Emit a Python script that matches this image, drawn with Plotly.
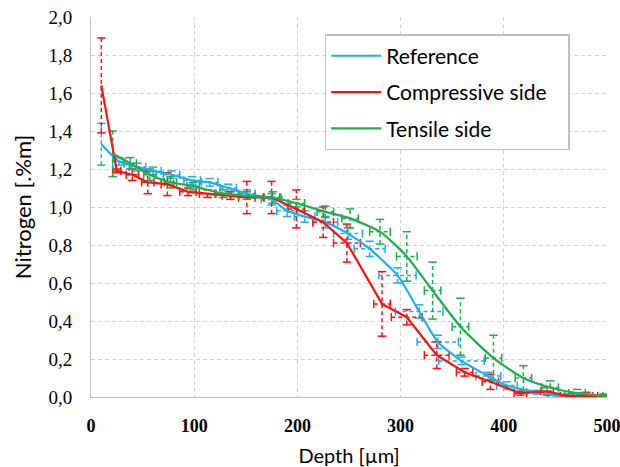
import plotly.graph_objects as go

# ---- data ----
ref_x = [10, 27, 45, 60, 78, 98, 115, 133, 151, 175, 190, 207, 227, 249, 270, 297, 318, 336, 359, 385, 403, 432, 451, 470]
ref_y = [1.33, 1.24, 1.21, 1.19, 1.17, 1.14, 1.13, 1.10, 1.07, 1.04, 0.98, 0.95, 0.92, 0.86, 0.78, 0.64, 0.45, 0.29, 0.19, 0.11, 0.06, 0.025, 0.01, 0.005]
ref_ey = [0.11, 0.02, 0.02, 0.02, 0.02, 0.02, 0.02, 0.02, 0.02, 0.03, 0.03, 0.03, 0.03, 0.03, 0.04, 0.04, 0.035, 0.035, 0.02, 0.02, 0.02, 0.01, 0.01, 0.01]
ref_ex = [0, 6, 8, 8, 8, 8, 8, 8, 8, 10, 10, 10, 12, 14, 15, 18, 23, 20, 22, 12, 10, 10, 8, 6]

comp_x = [10, 25, 40, 55, 74, 94, 113, 135, 151, 175, 199, 225, 248, 282, 306, 335, 362, 387, 416, 442, 461, 480, 497]
comp_y = [1.64, 1.19, 1.17, 1.13, 1.12, 1.08, 1.07, 1.06, 1.05, 1.05, 0.99, 0.92, 0.81, 0.49, 0.42, 0.22, 0.13, 0.08, 0.02, 0.03, 0.005, 0.005, 0.005]
comp_ey = [0.25, 0.01, 0.03, 0.06, 0.06, 0.02, 0.02, 0.02, 0.085, 0.085, 0.10, 0.08, 0.10, 0.17, 0.04, 0.07, 0.02, 0.04, 0.01, 0.02, 0.01, 0.02, 0.01]
comp_ex = [0, 4, 6, 6, 6, 8, 8, 8, 8, 8, 8, 10, 13, 8, 15, 12, 8, 8, 6, 6, 6, 6, 6]

tens_x = [21, 38, 57, 77, 99, 128, 151, 176, 199, 227, 251, 280, 306, 331, 358, 390, 419, 445, 471, 500]
tens_y = [1.28, 1.23, 1.17, 1.13, 1.11, 1.07, 1.06, 1.05, 1.02, 0.975, 0.94, 0.87, 0.74, 0.56, 0.37, 0.205, 0.10, 0.05, 0.02, 0.005]
tens_ey = [0.12, 0.03, 0.03, 0.03, 0.02, 0.02, 0.02, 0.03, 0.02, 0.03, 0.05, 0.065, 0.13, 0.15, 0.15, 0.12, 0.065, 0.035, 0.02, 0.005]
tens_ex = [0, 6, 6, 6, 6, 8, 8, 8, 8, 8, 8, 10, 10, 8, 8, 8, 8, 8, 8, 4]

series = [
    ("Reference", ref_x, ref_y, ref_ex, ref_ey, "#1CB0EC", "spline"),
    ("Compressive side", comp_x, comp_y, comp_ex, comp_ey, "#FF1010", "linear"),
    ("Tensile side", tens_x, tens_y, tens_ex, tens_ey, "#1DAE4E", "spline"),
]

x_ticks = [0, 100, 200, 300, 400, 500]
y_ticks = [0.0, 0.2, 0.4, 0.6, 0.8, 1.0, 1.2, 1.4, 1.6, 1.8, 2.0]

fig = go.Figure()

for name, xs, ys, exs, eys, col, shape in series:
    ex_l, ey_l = [], []
    cap_vx, cap_vy, cap_hx, cap_hy = [], [], [], []
    for x, y, ex, ey in zip(xs, ys, exs, eys):
        if ey > 0:
            ex_l += [x, x, None]
            ey_l += [y - ey, y + ey, None]
            cap_vx += [x, x]
            cap_vy += [y - ey, y + ey]
        if ex > 0:
            ex_l += [x - ex, x + ex, None]
            ey_l += [y, y, None]
            cap_hx += [x - ex, x + ex]
            cap_hy += [y, y]
    fig.add_trace(go.Scatter(x=ex_l, y=ey_l, mode="lines", showlegend=False, hoverinfo="skip",
                             line=dict(color=col, width=1.5, dash="4px,3px")))
    fig.add_trace(go.Scatter(x=cap_vx, y=cap_vy, mode="markers", showlegend=False, hoverinfo="skip",
                             marker=dict(symbol="line-ew", size=6, line=dict(color=col, width=1.5))))
    fig.add_trace(go.Scatter(x=cap_hx, y=cap_hy, mode="markers", showlegend=False, hoverinfo="skip",
                             marker=dict(symbol="line-ns", size=6, line=dict(color=col, width=1.5))))

pad = "\u00a0\u00a0\u00a0"
for i, (name, xs, ys, exs, eys, col, shape) in enumerate(series):
    fig.add_trace(go.Scatter(x=xs, y=ys, mode="lines", name=name + pad, legendgroup=f"g{i}",
                             line=dict(color=col, width=2.2, shape=shape, smoothing=0.6)))

grid = dict(showgrid=True, gridcolor="#D4D4D4", griddash="4px,3px", gridwidth=1,
            showline=True, linecolor="#BFBFBF", linewidth=1, zeroline=False, ticks="",
            automargin=False)

fig.update_layout(
    width=620, height=467,
    margin=dict(l=91, r=13, t=17, b=70, autoexpand=False),
    paper_bgcolor="white", plot_bgcolor="white",
    separators=", ",
    xaxis=dict(range=[0, 500], tickvals=x_ticks, ticktext=[str(v) for v in x_ticks],
               tickfont=dict(family="Liberation Serif", size=18, color="black", weight="bold"),
               ticklabelstandoff=12, ticklabeloverflow="allow",
               title=dict(text="Depth [µm]", font=dict(family="Lato", size=20, color="black"), standoff=21),
               **grid),
    yaxis=dict(range=[0, 2.0], tickvals=y_ticks, tickformat=".1f",
               tickfont=dict(family="Liberation Serif", size=19, color="black"),
               ticklabelstandoff=14,
               title=dict(text="Nitrogen [.%m]", font=dict(family="Lato", size=22, color="black"), standoff=10),
               **grid),
    legend=dict(x=0.453, y=0.955, xanchor="left", yanchor="top",
                bgcolor="white", bordercolor="#BFBFBF", borderwidth=1.5,
                font=dict(family="Lato", size=21, color="black"),
                traceorder="grouped", tracegroupgap=6, itemwidth=50),
    showlegend=True,
)

fig.write_html("out.html", post_script="document.body.style.margin='0';",
               config={"displayModeBar": False})
